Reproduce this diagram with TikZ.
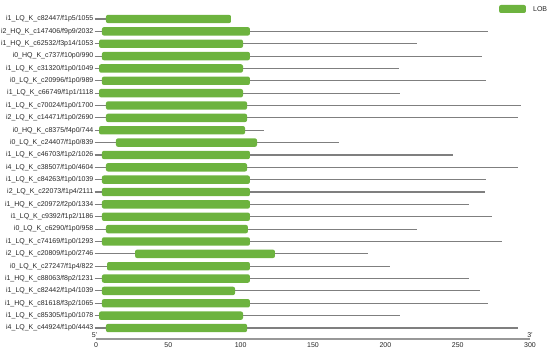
\documentclass[tikz,border=0pt]{standalone}
\usepackage{fontspec}
\setmainfont{Liberation Sans}
\usetikzlibrary{positioning}
\definecolor{cgreen}{HTML}{6DB33F}
\definecolor{cline}{HTML}{7F7F7F}
\definecolor{ctext}{HTML}{262626}
\tikzset{
  every picture/.style={font=\fontsize{7}{8}\selectfont, text=ctext},
  bar/.style={fill=cgreen, draw=none, rounded corners=2pt},
  track/.style={draw=cline, line width=1.1pt},
  rowlabel/.style={anchor=east, inner sep=1pt},
  ticklabel/.style={anchor=north, inner sep=1pt},
}

\begin{document}
\begin{tikzpicture}[x=1.4467pt, y=1pt]
  \useasboundingbox (-66.36,-14) rectangle (313.8,339);
  % axis
  \draw[cline!80, line width=1.3pt] (0,0) -- (300,0);
  \foreach \v in {0,50,...,300} \node[ticklabel] (t\v) at (\v,-2) {\v};
  \node[anchor=south east, inner sep=0pt] (five) at (1,1) {5'};
  \node[anchor=south, inner sep=0pt] (three) at (300,1) {3'};
  % reads: label / bar start / bar end / track end
  \foreach \l/\s/\e/\t [count=\i] in {
      {i1\_LQ\_K\_c82447/f1p5/1055}/6.9/93.3/93.3,
      {i2\_HQ\_K\_c147406/f9p9/2032}/4.1/106.4/271,
      {i1\_HQ\_K\_c62532/f3p14/1053}/2.1/101.6/222,
      {i0\_HQ\_K\_c737/f10p0/990}/4.1/106.4/267,
      {i1\_LQ\_K\_c31320/f1p0/1049}/2.1/101.6/209.4,
      {i0\_LQ\_K\_c20996/f1p0/989}/4.1/106.4/269.6,
      {i1\_LQ\_K\_c66749/f1p1/1118}/2.1/101.6/210,
      {i1\_LQ\_K\_c70024/f1p0/1700}/6.9/104.4/293.8,
      {i2\_LQ\_K\_c14471/f1p0/2690}/6.9/104.4/291.7,
      {i0\_HQ\_K\_c8375/f4p0/744}/2.1/103/116,
      {i0\_LQ\_K\_c24407/f1p0/839}/13.8/111.3/168,
      {i1\_LQ\_K\_c46703/f1p2/1026}/4.1/106.4/246.8,
      {i4\_LQ\_K\_c38507/f1p0/4604}/6.9/104.4/291.7,
      {i1\_LQ\_K\_c84263/f1p0/1039}/4.1/106.4/269.6,
      {i2\_LQ\_K\_c22073/f1p4/2111}/4.1/106.4/268.9,
      {i1\_HQ\_K\_c20972/f2p0/1334}/4.1/106.4/257.8,
      {i1\_LQ\_K\_c9392/f1p2/1186}/4.1/106.4/273.7,
      {i0\_LQ\_K\_c6290/f1p0/958}/6.9/105/222,
      {i1\_LQ\_K\_c74169/f1p0/1293}/4.1/106.4/280.6,
      {i2\_LQ\_K\_c20809/f1p0/2746}/27/123.7/188,
      {i0\_LQ\_K\_c27247/f1p4/822}/7.6/106.4/203.2,
      {i1\_HQ\_K\_c88063/f8p2/1231}/4.1/106.4/257.8,
      {i1\_LQ\_K\_c82442/f1p4/1039}/4.1/96.1/265.4,
      {i1\_HQ\_K\_c81618/f3p2/1065}/4.1/106.4/271,
      {i1\_LQ\_K\_c85305/f1p0/1078}/2.1/101.6/210,
      {i4\_LQ\_K\_c44924/f1p0/4443}/6.9/104.4/291.7} {
    \pgfmathsetmacro{\y}{320-12.36*(\i-1)}
    \node[rowlabel] (lbl\i) at (-1,\y) {\l};
    \draw[track] (lbl\i.east) -- (\t,\y);
    \fill[bar] (\s,\y-4.2) rectangle (\e,\y+4.2);
  }
  % legend
  \fill[bar] (278.6,326) rectangle (297.2,334);
  \node[anchor=west, inner sep=0pt] (lob) at (302,330) {LOB};
\end{tikzpicture}
\end{document}
